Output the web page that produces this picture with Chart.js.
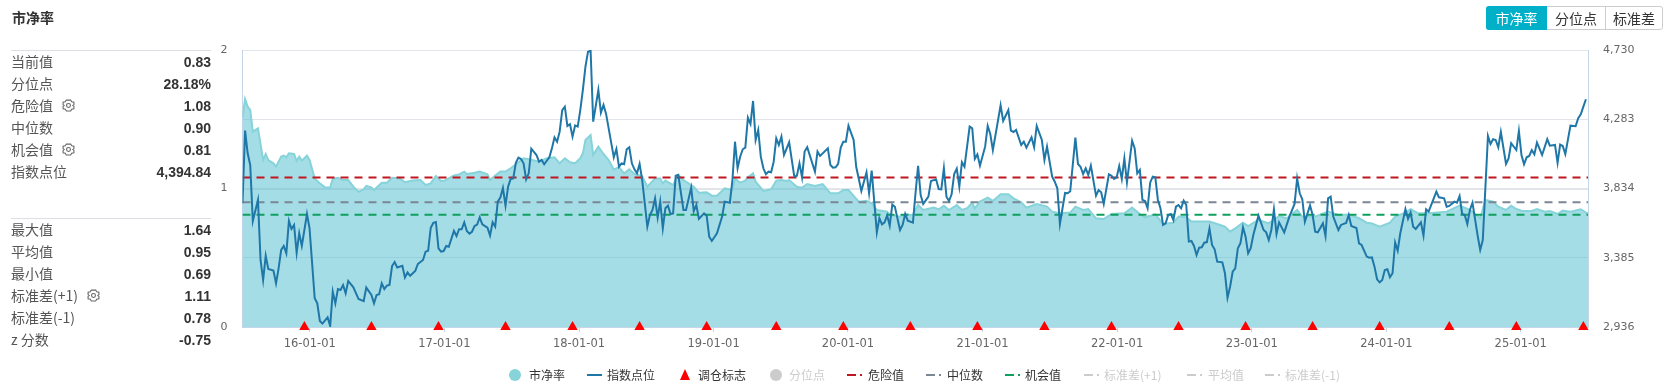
<!DOCTYPE html>
<html>
<head>
<meta charset="utf-8">
<title>市净率</title>
<script src="https://cdn.jsdelivr.net/npm/chart.js@4"></script>
<style>
  html, body { margin: 0; padding: 0; background: #fff; }
  body { width: 1676px; height: 387px; position: relative; overflow: hidden;
         font-family: "Noto Sans CJK SC", "Liberation Sans", sans-serif; color: #333; }
  canvas { position: absolute; left: 0; top: 0; }
  .title { position: absolute; left: 12px; top: 7px; font-size: 14px; font-weight: bold; line-height: 20px; }
  .rule { position: absolute; left: 11px; width: 200px; height: 1px; background: #dcdfe3; }
  .row { position: absolute; left: 11px; width: 200px; height: 22px; line-height: 20px; font-size: 14px; color: #555; }
  .row b { position: absolute; right: 0; top: 0; line-height: 22px; font-family: "Liberation Sans", sans-serif; color: #333; }
  .row svg { position: absolute; top: 4px; }
  .btns { position: absolute; left: 1486px; top: 6px; width: 175px; height: 22px; border: 1px solid #ccc;
          border-radius: 3px; display: flex; font-size: 14px; line-height: 22px; text-align: center; }
  .btns span { display: block; height: 22px; }
  .btns .on { background: #00b0c8; color: #fff; margin: -1px 0 -1px -1px; height: 24px; line-height: 24px; width: 61px; border-radius: 3px 0 0 3px; }
  .btns .mid { width: 58px; border-right: 1px solid #ccc; }
  .btns .last { flex: 1; }
  .lg { position: absolute; top: 366px; height: 18px; line-height: 18px; font-size: 12px; color: #333; white-space: nowrap; }
  .lg.off { color: #ccc; }
  .mark { position: absolute; }
</style>
</head>
<body>
<canvas id="chart" width="1676" height="387"></canvas>
<div class="title">市净率</div>
<div id="panel"></div>
<div class="btns"><span class="on">市净率</span><span class="mid">分位点</span><span class="last">标准差</span></div>
<div id="legend"></div>
<script>
// x positions are weeks counted from the left edge of the chart (mid 2015)
const indexWeeks = [
  0,1,2,3,4,6,7,8,9,10,
  12,13,14,15,16,17,18,19,20,21,
  22,23,25,26,28,29,30,31,33,34,
  35,36,37,38,39,40,41,43,45,47,
  48,50,51,52,53,54,55,56,57,58,
  59,60,62,63,64,65,67,68,70,71,
  72,73,74,75,76,77,78,79,80,82,
  83,84,85,86,87,88,89,90,91,92,
  93,95,96,97,98,99,100,101,102,103,
  104,105,106,107,108,109,110,111,112,114,
  115,116,117,119,120,121,122,123,124,125,
  126,127,128,129,130,131,132,133,134,135,
  136,138,139,140,141,144,145,146,147,148,
  149,150,151,152,153,154,155,157,158,159,
  160,161,162,163,164,165,166,167,168,169,
  171,172,174,175,176,177,179,180,181,182,
  184,186,187,189,190,191,192,193,194,195,
  196,197,198,199,200,201,202,203,204,205,
  206,207,208,209,210,212,214,215,216,217,
  218,219,222,223,224,227,228,229,230,231,
  232,233,234,235,237,238,240,242,243,244,
  246,247,248,249,250,251,252,253,255,256,
  257,258,260,261,262,263,264,266,267,269,
  270,271,272,273,274,275,276,277,278,279,
  280,282,283,284,285,286,288,289,290,291,
  294,295,297,298,299,300,302,303,304,306,
  307,308,310,311,312,314,315,316,317,319,
  320,321,323,324,325,326,327,328,329,331,
  332,333,334,336,337,338,339,340,341,342,
  343,345,346,347,348,349,350,351,352,353,
  354,355,356,357,358,359,360,361,362,363,
  364,365,366,367,368,369,370,371,372,373,
  374,375,376,377,378,380,381,382,383,384,
  385,386,387,388,389,390,391,392,394,396,
  397,398,399,400,401,402,404,406,408,409,
  410,411,412,414,415,416,417,419,420,421,
  422,423,425,426,428,429,430,432,433,434,
  436,437,438,439,440,441,442,443,444,445,
  446,447,448,449,451,452,453,454,455,457,
  458,459,460,463,464,466,467,468,470,471,
  472,473,474,475,476,477,479,480,481,483,
  484,485,486,487,488,490,491,492,494,495,
  496,497,498,499,500,501,502,504,506,507,
  509,510,511,512,513,515,517,518,519,520,
  521
];
const indexValues = [
  3737,4208,4061,3985,3623,3759,3370,3240,3398,3312,
  3301,3219,3316,3435,3461,3413,3623,3571,3597,3417,
  3543,3461,3668,3575,3122,3089,2975,2958,2999,2942,
  3165,3089,3182,3176,3208,3154,3234,3193,3117,3104,
  3191,3143,3089,3143,3148,3219,3182,3204,3208,3331,
  3357,3322,3333,3256,3290,3268,3299,3344,3370,3424,
  3430,3579,3610,3616,3446,3424,3428,3461,3456,3558,
  3525,3569,3569,3614,3558,3541,3553,3590,3599,3646,
  3601,3579,3528,3614,3586,3748,3774,3836,3722,3845,
  3895,3899,4000,4033,4024,3996,3892,3931,4091,4050,
  4007,4018,3990,4035,4093,4164,4136,4201,4341,4363,
  4238,4249,4169,4242,4234,4341,4471,4622,4719,4726,
  4266,4471,4324,4374,4316,4035,4089,3974,3996,3990,
  4087,4100,3996,3957,3931,3992,3888,3586,3661,3694,
  3769,3644,3748,3575,3705,3722,3668,3672,3916,3921,
  3694,3694,3838,3687,3726,3636,3672,3657,3521,3493,
  3543,3651,3748,3741,3888,4136,3964,4039,4087,4098,
  4292,4251,4400,4147,4212,4039,3964,3925,3942,3938,
  4007,4158,4115,4169,4050,4132,3910,3916,3996,3905,
  4072,4100,3942,4072,4044,4093,3985,3968,3970,3992,
  4098,4136,4136,4240,4147,3974,3817,3938,3802,3949,
  3549,3640,3601,3614,3659,3592,3728,3715,3564,3597,
  3668,3625,3612,3802,3979,3791,3733,3780,3882,3892,
  3830,3828,3964,3780,3752,3795,3927,3962,3845,4003,
  3974,4234,4223,4026,4054,3981,4104,4238,4186,4082,
  4372,4270,4341,4208,4199,4212,4115,4136,4098,4164,
  4100,4238,4147,4018,4104,3910,3877,3834,3603,3804,
  3802,3815,4162,3992,3974,3927,3964,3921,3981,3787,
  3823,3808,3733,3925,3916,3895,3905,3979,3895,4028,
  3873,4143,4093,3931,3953,3759,3752,3705,3871,3910,
  3905,3759,3705,3597,3607,3661,3668,3629,3715,3726,
  3705,3754,3726,3489,3493,3461,3402,3450,3452,3482,
  3486,3573,3467,3439,3359,3355,3284,3126,3197,3294,
  3316,3446,3478,3582,3521,3413,3446,3532,3657,3564,
  3549,3499,3564,3698,3538,3614,3549,3651,3733,3899,
  3802,3763,3618,3724,3661,3553,3549,3607,3525,3769,
  3780,3651,3564,3597,3610,3661,3590,3577,3478,3467,
  3392,3385,3387,3327,3245,3225,3240,3305,3310,3258,
  3284,3484,3430,3543,3700,3636,3677,3586,3571,3614,
  3528,3698,3683,3813,3776,3769,3715,3720,3748,3741,
  3784,3668,3661,3603,3694,3741,3528,3435,3499,4173,
  4121,4152,4147,4100,4199,3992,4028,4126,4082,4205,
  4050,3990,4035,4044,4082,4054,4130,4050,4152,4110,
  4115,4000,4117,4108,4056,4240,4236,4288,4313,4363,
  4411
];
const pbWeeks = [
  0,1,2,3,4,6,8,9,10,12,
  13,15,16,17,18,20,21,22,23,25,
  26,28,30,32,34,35,37,39,41,43,
  45,47,48,50,51,54,56,58,61,63,
  66,69,71,73,75,77,78,82,84,86,
  87,90,92,95,96,98,100,102,104,106,
  109,111,115,118,121,123,125,127,129,131,
  132,133,135,136,138,140,142,144,146,148,
  150,152,155,157,160,162,163,164,167,169,
  171,175,177,180,182,184,187,190,191,193,
  195,196,198,199,202,205,207,209,211,212,
  215,217,219,222,225,228,231,233,235,239,
  242,244,246,250,251,255,257,260,262,264,
  268,270,272,274,277,279,281,283,284,286,
  289,291,294,297,299,302,304,308,312,314,
  317,321,323,326,328,331,334,337,342,345,
  348,350,354,357,361,363,366,368,372,375,
  378,381,383,385,388,390,394,398,402,405,
  409,411,416,421,425,429,433,436,438,441,
  445,447,451,453,456,460,467,472,476,480,
  482,485,487,490,492,494,496,500,502,505,
  507,510,512,515,519,521,522
];
const pbValues = [
  1.514,1.646,1.591,1.567,1.410,1.434,1.206,1.249,1.206,1.182,
  1.158,1.230,1.237,1.225,1.254,1.249,1.199,1.230,1.201,1.237,
  1.206,1.073,1.037,1.008,1.008,1.069,1.078,1.061,1.061,1.013,
  0.977,0.994,1.018,1.008,0.989,1.042,1.042,1.078,1.073,1.045,
  1.057,1.061,1.025,1.037,1.090,1.054,1.054,1.095,1.102,1.122,
  1.105,1.114,1.122,1.102,1.061,1.093,1.122,1.122,1.146,1.174,
  1.218,1.211,1.194,1.218,1.225,1.182,1.218,1.189,1.182,1.218,
  1.254,1.350,1.386,1.242,1.302,1.249,1.206,1.138,1.153,1.109,
  1.138,1.105,1.090,1.013,1.073,1.073,1.037,1.057,1.025,1.097,
  1.061,1.013,0.970,0.972,0.948,0.948,1.001,0.989,1.073,1.042,
  1.057,1.081,1.109,1.049,0.982,0.994,1.057,1.061,1.054,1.061,
  1.013,1.006,1.032,1.018,1.032,0.965,0.965,0.989,0.989,0.905,
  0.912,0.893,0.845,0.833,0.809,0.797,0.813,0.809,0.881,0.845,
  0.862,0.850,0.876,0.845,0.881,0.845,0.857,0.898,0.857,0.905,
  0.934,0.910,0.958,0.958,0.929,0.900,0.862,0.888,0.869,0.833,
  0.821,0.826,0.869,0.845,0.852,0.785,0.780,0.816,0.821,0.862,
  0.816,0.792,0.813,0.744,0.753,0.797,0.792,0.761,0.761,0.761,
  0.744,0.724,0.688,0.712,0.753,0.729,0.773,0.748,0.801,0.785,
  0.845,0.797,0.797,0.833,0.809,0.813,0.785,0.753,0.748,0.724,
  0.753,0.797,0.826,0.850,0.821,0.821,0.833,0.876,0.845,0.785,
  0.917,0.905,0.869,0.845,0.876,0.852,0.840,0.838,0.852,0.833,
  0.838,0.816,0.840,0.833,0.850,0.826,0.821
];
const rebalanceWeeks = [24,50,76,102,128,154,180,207,233,259,285,311,337,363,389,415,441,468,494,520];
const dangerValue = 1.08;
const medianValue = 0.90;
const chanceValue = 0.81;
const lastWeek = 521.8;

const xTickWeeks = [26.1,78.3,130.5,182.7,234.8,287,339.2,391.4,443.6,495.7];
const xTickLabels = ['16-01-01','17-01-01','18-01-01','19-01-01','20-01-01','21-01-01','22-01-01','23-01-01','24-01-01','25-01-01'];
const leftTicks = [0,0.5,1,1.5,2];
const rightTicks = [2936,3385,3834,4283,4730];

const panelTop = [
  ['当前值','0.83'],['分位点','28.18%'],['危险值','1.08',69],['中位数','0.90'],['机会值','0.81',69],['指数点位','4,394.84']
];
const panelBottom = [
  ['最大值','1.64'],['平均值','0.95'],['最小值','0.69'],['标准差(+1)','1.11',94],['标准差(-1)','0.78'],['z 分数','-0.75']
];

const gear = x => '<svg style="left:' + (x - 18) + 'px" width="13" height="13" viewBox="0 0 12 12" fill="none" stroke="#666" stroke-width="1">' +
  '<path d="M4 1h4l1 1.6 2 .4v2.2L10 6l1 .8V9l-2 .4L8 11H4L3 9.4 1 9V6.800L2 6 1 5.200V3l2-.4z"/><circle cx="6" cy="6" r="1.800"/></svg>';

let html = '<div class="rule" style="top:50px"></div><div class="rule" style="top:218px"></div>';
panelTop.forEach((r, i) => {
  html += '<div class="row" style="top:' + (51 + i * 22) + 'px">' + r[0] + (r[2] ? gear(r[2]) : '') + '<b>' + r[1] + '</b></div>';
});
panelBottom.forEach((r, i) => {
  html += '<div class="row" style="top:' + (219 + i * 22) + 'px">' + r[0] + (r[2] ? gear(r[2]) : '') + '<b>' + r[1] + '</b></div>';
});
document.getElementById('panel').innerHTML = html;

// legend entries: text, text x, grey, kind of mark, colour, mark x
const legendItems = [
  ['市净率',529,false,'dot','#86d3d9',509],
  ['指数点位',607,false,'line','#1f77a8',587],
  ['调仓标志',698,false,'tri','#f00',680],
  ['分位点',789,true,'dot','#ccc',770],
  ['危险值',868,false,'dash','#c0161f',847],
  ['中位数',947,false,'dash','#7b8794',926],
  ['机会值',1025,false,'dash','#0fa05f',1005],
  ['标准差(+1)',1104,true,'dash','#ccc',1084],
  ['平均值',1208,true,'dash','#ccc',1187],
  ['标准差(-1)',1285,true,'dash','#ccc',1265]
];
let lg = '';
legendItems.forEach(it => {
  const [text, x, off, kind, color, mx] = it;
  if (kind === 'dot') lg += '<div class="mark" style="left:' + mx + 'px;top:369px;width:12px;height:12px;border-radius:6px;background:' + color + '"></div>';
  if (kind === 'line') lg += '<div class="mark" style="left:' + mx + 'px;top:374px;width:15px;height:2px;background:' + color + '"></div>';
  if (kind === 'tri') lg += '<div class="mark" style="left:' + mx + 'px;top:369px;width:0;height:0;border-left:5.5px solid transparent;border-right:5.5px solid transparent;border-bottom:11px solid ' + color + '"></div>';
  if (kind === 'dash') lg += '<div class="mark" style="left:' + mx + 'px;top:374px;width:9px;height:2px;background:' + color + '"></div>' +
    '<div class="mark" style="left:' + (mx + 13) + 'px;top:374px;width:2px;height:2px;background:' + color + '"></div>';
  lg += '<div class="lg' + (off ? ' off' : '') + '" style="left:' + x + 'px">' + text + '</div>';
});
document.getElementById('legend').innerHTML = lg;

const pairs = (xs, ys) => xs.map((x, i) => ({ x: x, y: ys[i] }));
const flat = v => [{ x: 0, y: v }, { x: lastWeek, y: v }];
const tickFont = { family: '"DejaVu Sans"', size: 11 };
const gridColor = '#e1e5e9';
const edgeColor = '#c5d6e8';

new Chart(document.getElementById('chart'), {
  type: 'line',
  data: {
    datasets: [
      { label: '调仓标志', data: rebalanceWeeks.map(w => ({ x: w, y: 0 })), showLine: false, pointStyle: 'triangle', pointRadius: 6, pointBackgroundColor: '#f00', pointBorderWidth: 0, clip: false, order: 0 },
      { label: '指数点位', data: pairs(indexWeeks, indexValues), yAxisID: 'y1', borderColor: '#1f77a8', borderWidth: 2, pointRadius: 0, tension: 0, order: 1 },
      { label: '危险值', data: flat(dangerValue), borderColor: '#c0161f', borderWidth: 2, borderDash: [8, 6], pointRadius: 0, order: 2 },
      { label: '中位数', data: flat(medianValue), borderColor: '#7b8794', borderWidth: 2, borderDash: [8, 6], pointRadius: 0, order: 2 },
      { label: '机会值', data: flat(chanceValue), borderColor: '#0fa05f', borderWidth: 2, borderDash: [8, 6], pointRadius: 0, order: 2 },
      { label: '市净率', data: pairs(pbWeeks, pbValues), borderColor: '#86d3d9', borderWidth: 2, backgroundColor: 'rgba(76,188,208,0.5)', fill: 'origin', pointRadius: 0, tension: 0, order: 3 }
    ]
  },
  options: {
    responsive: false,
    animation: false,
    layout: { padding: { top: 50, left: 0, right: 0, bottom: 0 } },
    plugins: { legend: { display: false }, tooltip: { enabled: false } },
    scales: {
      x: {
        type: 'linear', min: 0, max: lastWeek,
        afterBuildTicks: s => { s.ticks = xTickWeeks.map(v => ({ value: v })); },
        afterFit: s => { s.height = 60; },
        grid: { drawOnChartArea: false, drawTicks: true, tickLength: 5, color: edgeColor },
        border: { color: edgeColor, width: 1 },
        ticks: { autoSkip: false, maxRotation: 0, padding: 5, font: { family: '"DejaVu Sans"', size: 11.5 }, color: '#666', callback: (v, i) => xTickLabels[i] }
      },
      y: {
        position: 'left', min: 0, max: 2,
        afterBuildTicks: s => { s.ticks = leftTicks.map(v => ({ value: v })); },
        afterFit: s => { s.width = 242.5; },
        grid: { color: gridColor, lineWidth: c => c.tick && c.tick.value === 1 ? 2 : 1, drawTicks: false },
        border: { color: edgeColor },
        ticks: { autoSkip: false, padding: 15, font: tickFont, color: '#666', callback: v => Number.isInteger(v) ? v : '' }
      },
      y1: {
        position: 'right', min: 2936, max: 4730,
        afterBuildTicks: s => { s.ticks = rightTicks.map(v => ({ value: v })); },
        afterFit: s => { s.width = 88; },
        grid: { drawOnChartArea: false, drawTicks: false },
        border: { color: edgeColor },
        ticks: { autoSkip: false, padding: 15, font: tickFont, color: '#666', callback: v => v.toLocaleString('en-US') }
      }
    }
  }
});
</script>
</body>
</html>
